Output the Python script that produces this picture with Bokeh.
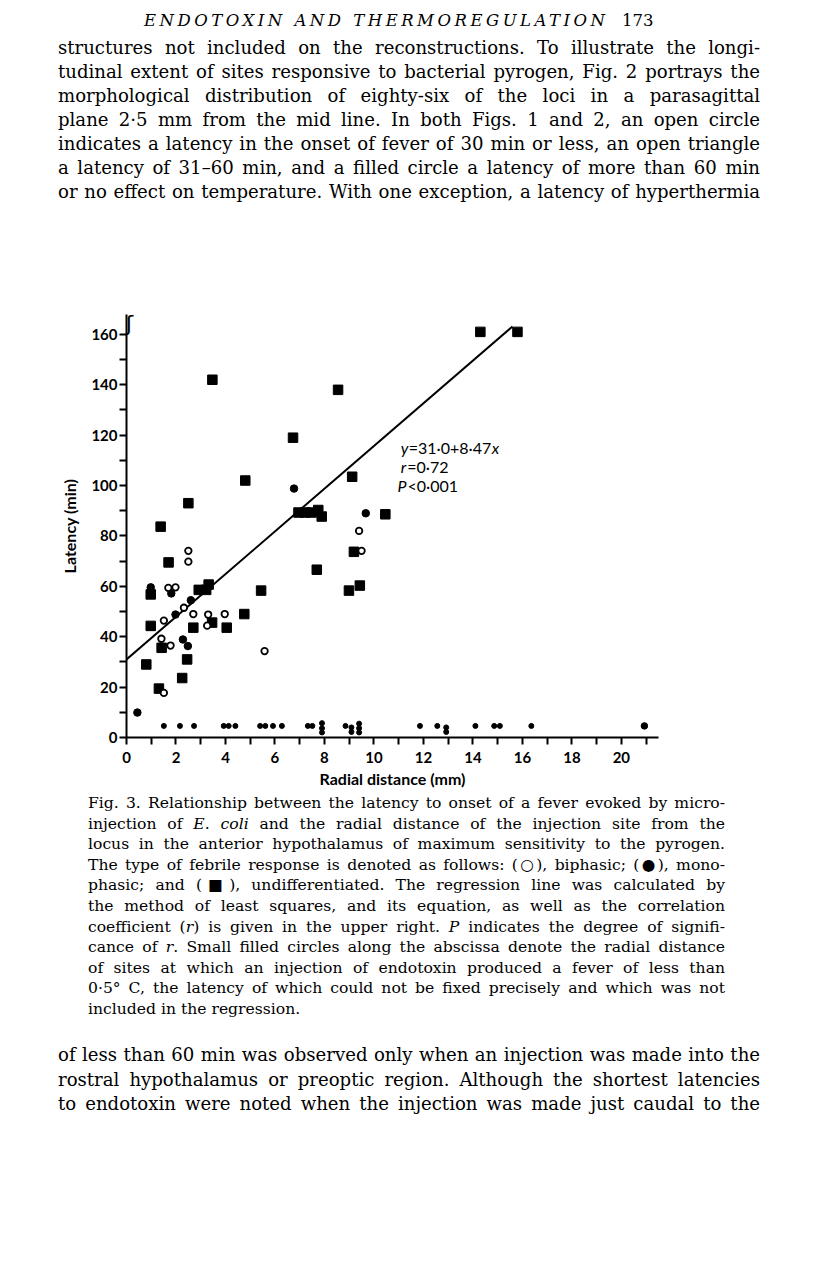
from bokeh.plotting import figure
from bokeh.models import Range1d, FixedTicker, Label, Div
from bokeh.layouts import column
from bokeh.embed import file_html
from bokeh.resources import INLINE

# ---------------- data ----------------
# undifferentiated responses (filled squares)
undiff_x = [14.3, 15.8, 3.47, 8.55, 6.73, 4.8, 9.12, 2.5, 1.38, 1.7, 2.92, 3.22, 3.32,
            0.98, 0.98, 0.8, 1.42, 1.31, 2.25, 2.45, 2.7, 3.46, 4.05, 4.76, 5.44,
            6.95, 7.22, 7.48, 7.75, 7.89, 7.69, 10.46, 9.19, 8.99, 9.43]
undiff_y = [161, 161, 142, 138, 119, 102, 103.5, 93, 83.7, 69.5, 58.6, 58.6, 60.7,
            56.8, 44.3, 29, 35.6, 19.4, 23.6, 31, 43.6, 45.6, 43.6, 49, 58.3,
            89.3, 89.3, 89.3, 90.3, 87.7, 66.6, 88.6, 73.7, 58.3, 60.3]
# monophasic responses (filled circles)
mono_x = [6.77, 9.67, 0.98, 1.81, 2.6, 1.98, 2.28, 2.48, 0.44]
mono_y = [98.8, 89, 59.6, 57.2, 54.5, 48.8, 38.9, 36.3, 9.9]
# biphasic responses (open circles)
bi_x = [2.5, 2.5, 1.69, 1.98, 2.32, 1.51, 2.7, 3.3, 3.26, 3.97, 1.41, 1.78, 5.58, 1.51, 9.4, 9.5]
bi_y = [74.1, 69.8, 59.4, 59.6, 51.5, 46.4, 49, 48.8, 44.4, 49, 39.2, 36.5, 34.3, 17.7, 82, 74.1]
# sites with fever < 0.5 C (small filled circles along the abscissa)
small_x = [1.51, 2.16, 2.73, 3.93, 4.13, 4.4, 5.4, 5.61, 5.92, 6.28, 7.33, 7.51,
           7.9, 7.9, 7.9, 8.85, 9.09, 9.09, 9.4, 9.4, 9.4, 11.86, 12.56, 12.92, 12.92,
           14.1, 14.86, 15.09, 16.36]
small_y = [4.6, 4.6, 4.6, 4.6, 4.6, 4.6, 4.6, 4.6, 4.6, 4.6, 4.6, 4.6,
           5.7, 3.7, 2.0, 4.6, 4.0, 2.2, 5.5, 3.7, 2.0, 4.6, 4.6, 4.0, 2.2,
           4.6, 4.6, 4.6, 4.6]
far_x = [20.93]
far_y = [4.6]
# regression  y = 31.0 + 8.47 x
reg_intercept = 31.0
reg_slope = 8.47
reg_x = [0.0, 15.6]
reg_y = [reg_intercept + reg_slope * v for v in reg_x]

x_major = [0, 2, 4, 6, 8, 10, 12, 14, 16, 18, 20]
x_minor = [1, 3, 5, 7, 9, 11, 13, 15, 17, 19, 21]
y_major = [0, 20, 40, 60, 80, 100, 120, 140, 160]
y_minor = [10, 30, 50, 70, 90, 110, 130, 150]
x_title = "Radial distance (mm)"
y_title = "Latency (min)"

# ---------------- chart ----------------
p = figure(width=800, height=562, x_range=Range1d(0, 21.5), y_range=Range1d(0, 167.9),
           output_backend="svg", toolbar_location=None,
           min_border_left=126, min_border_right=142, min_border_top=84, min_border_bottom=55)
p.xgrid.visible = False
p.ygrid.visible = False
p.outline_line_color = None
p.background_fill_color = "white"
p.border_fill_color = "white"

for ax, maj, mnr in ((p.xaxis[0], x_major, x_minor), (p.yaxis[0], y_major, y_minor)):
    ax.ticker = FixedTicker(ticks=maj, minor_ticks=mnr)
    ax.axis_line_width = 2
    ax.axis_line_color = "black"
    ax.major_tick_line_width = 2
    ax.minor_tick_line_width = 2
    ax.major_tick_line_color = "black"
    ax.minor_tick_line_color = "black"
    ax.major_tick_out = 7
    ax.major_tick_in = 0
    ax.minor_tick_out = 7
    ax.minor_tick_in = 0
    ax.major_label_text_font = "Lato"
    ax.major_label_text_font_size = "15px"
    ax.major_label_text_font_style = "bold"
    ax.major_label_text_color = "black"
    ax.axis_label_text_font = "Lato"
    ax.axis_label_text_font_size = "16px"
    ax.axis_label_text_font_style = "bold"
    ax.axis_label_text_color = "black"

p.xaxis[0].axis_label = x_title
p.xaxis[0].major_label_standoff = 7
p.xaxis[0].axis_label_standoff = 3
p.yaxis[0].axis_label = y_title
p.yaxis[0].major_label_standoff = 2
p.yaxis[0].axis_label_standoff = 9

p.line(reg_x, reg_y, line_color="black", line_width=2)
p.scatter(undiff_x, undiff_y, marker="square", size=9.5, fill_color="black", line_color="black")
p.scatter(mono_x, mono_y, marker="circle", size=7.5, fill_color="black", line_color="black")
p.scatter(bi_x, bi_y, marker="circle", size=6.5, fill_color="white", line_color="black", line_width=1.8)
p.scatter(small_x, small_y, marker="circle", size=5, fill_color="black", line_color="black")
p.scatter(far_x, far_y, marker="circle", size=6.5, fill_color="black", line_color="black")

# axis break mark
p.add_layout(Label(x=0, y=164.5, text="ʃ", text_align="center", text_baseline="middle",
                   x_offset=3, text_font="DejaVu Sans", text_font_size="22px", text_color="black"))

# regression equation
ann_font = "Lato"
ann_size = "16px"
def lab(x, y, t, xoff=0, style="normal"):
    p.add_layout(Label(x=x, y=y, text=t, x_offset=xoff, text_align="left", text_baseline="middle",
                       text_font=ann_font, text_font_size=ann_size, text_font_style=style,
                       text_color="black"))
lab(11.08, 115.2, "y", 0, "italic")
lab(11.08, 115.2, "=31·0+8·47", 8)
lab(11.08, 115.2, "x", 91, "italic")
lab(11.08, 107.7, "r", 0, "italic")
lab(11.08, 107.7, "=0·72", 6.5)
lab(10.95, 100.1, "P", 0, "italic")
lab(10.95, 100.1, "<0·001", 10)

# ---------------- page text ----------------
header = "ENDOTOXIN AND THERMOREGULATION"
page_no = "173"
para1 = [
    "structures not included on the reconstructions. To illustrate the longi-",
    "tudinal extent of sites responsive to bacterial pyrogen, Fig. 2 portrays the",
    "morphological distribution of eighty-six of the loci in a parasagittal",
    "plane 2·5 mm from the mid line. In both Figs. 1 and 2, an open circle",
    "indicates a latency in the onset of fever of 30 min or less, an open triangle",
    "a latency of 31–60 min, and a filled circle a latency of more than 60 min",
    "or no effect on temperature. With one exception, a latency of hyperthermia",
]
caption = [
    "Fig. 3. Relationship between the latency to onset of a fever evoked by micro-",
    "injection of <i>E. coli</i> and the radial distance of the injection site from the",
    "locus in the anterior hypothalamus of maximum sensitivity to the pyrogen.",
    "The type of febrile response is denoted as follows: (○), biphasic; (●), mono-",
    "phasic; and (■), undifferentiated. The regression line was calculated by",
    "the method of least squares, and its equation, as well as the correlation",
    "coefficient (<i>r</i>) is given in the upper right. <i>P</i> indicates the degree of signifi-",
    "cance of <i>r</i>. Small filled circles along the abscissa denote the radial distance",
    "of sites at which an injection of endotoxin produced a fever of less than",
    "0·5° C, the latency of which could not be fixed precisely and which was not",
    "included in the regression.",
]
para2 = [
    "of less than 60 min was observed only when an injection was made into the",
    "rostral hypothalamus or preoptic region. Although the shortest latencies",
    "to endotoxin were noted when the injection was made just caudal to the",
]

def line_html(text, top, left, width, size, lh, justify=True, extra=""):
    align = "text-align:justify;text-align-last:justify;" if justify else "text-align:left;"
    return (f'<div style="position:absolute;top:{top}px;left:{left}px;width:{width}px;'
            f'height:{lh}px;line-height:{lh}px;font-family:\'DejaVu Serif\';font-size:{size}px;'
            f'white-space:nowrap;color:#000;{align}{extra}">{text}</div>')

body_size = 18.1
cap_size = 15.6
top_parts = [line_html(header, 9, 144, 480, 16.5, 24, False,
                       "font-style:italic;letter-spacing:3.5px;"),
             line_html(page_no, 9, 622, 40, 16.5, 24, False)]
for i, t in enumerate(para1):
    top_parts.append(line_html(t, 35.5 + 24 * i, 58, 702, body_size, 24, True))
top_div = Div(text='<div style="position:relative;width:800px;height:230px;">' + "".join(top_parts) + "</div>",
              width=800, height=230, margin=0)

bot_parts = []
for i, t in enumerate(caption):
    bot_parts.append(line_html(t, 1 + 20.6 * i, 88, 637, cap_size, 20, i < len(caption) - 1))
for i, t in enumerate(para2):
    bot_parts.append(line_html(t, 251 + 24.5 * i, 58, 702, body_size, 24, True))
bot_div = Div(text='<div style="position:relative;width:808px;height:481px;">' + "".join(bot_parts) + "</div>",
              width=808, height=481, margin=0)

layout = column(top_div, p, bot_div, spacing=0)
open("out.html", "w").write(file_html(layout, INLINE))
